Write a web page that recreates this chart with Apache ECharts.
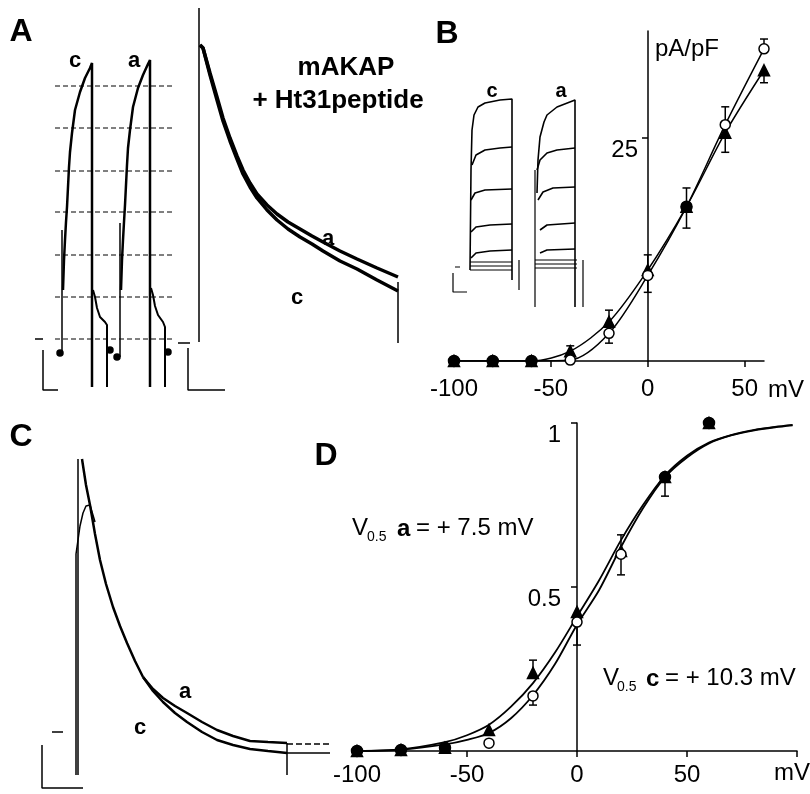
<!DOCTYPE html>
<html>
<head>
<meta charset="utf-8">
<script src="https://cdn.jsdelivr.net/npm/echarts@6/dist/echarts.min.js"></script>
<style>
  html, body { margin: 0; padding: 0; background: #fff; }
  #fig { width: 810px; height: 794px; }
</style>
</head>
<body>
<div id="fig"></div>
<script>
const FF = '"Liberation Sans", Arial, Helvetica, sans-serif'

// ---- panel B: current density vs voltage (pA/pF) ----
const ivVolt = [-100, -80, -60, -40, -20, 0, 20, 40, 60]
const ivCtrl = [0, 0, 0, 0.1, 3.1, 9.6, 17.3, 26.5, 35.0]     // c, open circles
const ivAkap = [0, 0, 0, 1.1, 4.4, 10.2, 17.3, 25.6, 32.6]    // a, triangles
const ivBothVolt = [-100, -80, -60, 20]
const ivBothVal = [0, 0, 0, 17.3]
// [mV, mean, end of bar]
const ivErr = [[-40, 1.1, 1.7], [-20, 4.4, 5.7], [-20, 3.1, 2.0], [0, 10.2, 11.9], [0, 9.6, 7.7],
  [20, 17.3, 19.4], [20, 17.3, 14.9], [40, 26.5, 28.5], [40, 25.6, 23.4], [60, 35.0, 36.1], [60, 32.6, 31.2]]
const ivXTicks = [-100, -50, 0, 50]
const ivYTicks = [25]

// ---- panel D: normalised conductance ----
const gvVolt = [-100, -80, -60, -40, -20, 0, 20, 40, 60]
const gvCtrl = [0, 0.003, 0.01, 0.024, 0.168, 0.393, 0.6, 0.835, 1.0]
const gvAkap = [0, 0.003, 0.01, 0.064, 0.238, 0.424, 0.61, 0.835, 1.0]
const gvBothVolt = [-100, -80, -60, 40, 60]
const gvBothVal = [0, 0.003, 0.01, 0.835, 1.0]
const gvErr = [[-20, 0.238, 0.277], [-20, 0.168, 0.14], [0, 0.393, 0.323], [20, 0.61, 0.659], [20, 0.6, 0.537], [40, 0.835, 0.777]]
const fitVolt = [-100, -80, -60, -50, -40, -30, -20, -10, 0, 10, 20, 30, 40, 50, 60, 70, 80, 90, 98]
const fitAkap = [0, 0.005, 0.027, 0.048, 0.08, 0.135, 0.207, 0.3, 0.41, 0.52, 0.643, 0.75, 0.84, 0.9, 0.94, 0.963, 0.978, 0.988, 0.994]
const fitCtrl = [0, 0.004, 0.02, 0.034, 0.055, 0.1, 0.17, 0.265, 0.385, 0.49, 0.622, 0.74, 0.835, 0.895, 0.938, 0.962, 0.977, 0.987, 0.993]
const gvXTicks = [-100, -50, 0, 50, 100]
const gvXLabels = [-100, -50, 0, 50]
const gvYTicks = [0.5, 1]

// ---- panel A traces [t, v] ----
const aRefLevels = [314, 272, 229, 188, 145, 103, 61]
const aCtrlSpike = [[32, 47], [32, 170]]
const aCtrlRise = [[33, 110], [34, 140], [35, 160], [36, 178], [37, 193], [39, 233], [40, 248], [42, 267], [45, 290], [50, 308], [55, 322], [60, 332], [62, 337], [62, 13]]
const aCtrlTail = [[63, 110], [65, 103], [67, 92], [70, 83], [75, 78], [77, 75], [77, 13]]
const aAkapSpike = [[90, 43], [90, 177]]
const aAkapRise = [[91, 110], [92, 140], [93, 160], [94, 178], [95, 195], [97, 235], [98, 252], [100, 270], [103, 293], [108, 312], [113, 325], [118, 336], [120, 340], [120, 13]]
const aAkapTail = [[121, 112], [123, 105], [125, 94], [128, 85], [133, 78], [135, 73], [135, 13]]
const aDots = [[30, 47], [80, 50], [87, 43], [138, 48]]
const aStep = [[169, 58], [169, 392]]
const aDecayA = [[170, 355], [173, 352], [180, 327], [187, 303], [193, 282], [200, 262], [207, 244], [213, 230], [220, 217], [227, 206], [237, 195], [247, 186], [258, 178], [270, 171], [282, 164], [293, 158], [310, 149], [327, 141], [347, 132], [368, 123]]
const aDecayC = [[170, 355], [173, 352], [180, 325], [187, 300], [193, 279], [200, 259], [207, 241], [213, 226], [220, 213], [227, 202], [237, 190], [247, 180], [258, 171], [270, 163], [282, 156], [293, 149], [310, 139], [327, 131], [347, 120], [368, 109]]
const aStepEnd = [[368, 57], [368, 118]]
const aZero1 = [[5, 61], [13, 61]]
const aZero2 = [[148, 57], [160, 57]]
const aBar1 = [[13, 50], [13, 10], [28, 10]]
const aBar2 = [[158, 52], [158, 10], [195, 10]]

// ---- panel B inset traces ----
const insC = [
  [[30, 50], [31, 150], [32, 190], [34, 205], [38, 213], [45, 217], [60, 220], [72, 221], [72, 40]],
  [[32, 155], [36, 165], [45, 170], [60, 172], [72, 173]],
  [[31, 120], [35, 127], [45, 130], [72, 131]],
  [[31, 88], [36, 93], [50, 95], [72, 96]],
  [[31, 62], [36, 67], [50, 69], [72, 70]]
]
const insCBase = [58, 54, 50]
const insA = [
  [[97, 127], [98, 160], [100, 183], [104, 198], [107, 205], [117, 213], [135, 220], [135, 13]],
  [[97, 150], [100, 160], [107, 167], [117, 170], [135, 172]],
  [[98, 120], [103, 128], [113, 132], [135, 133]],
  [[100, 90], [107, 95], [135, 97]],
  [[100, 67], [107, 70], [135, 71]]
]
const insABase = [60, 56, 52]
const insALeft = [[95, 13], [95, 150]]
const insCRight2 = [[79, 60], [79, 30]]
const insARight2 = [[143, 60], [143, 13]]
const insZero = [[15, 53], [20, 53]]
const insBar = [[13, 47], [13, 28], [27, 28]]

// ---- panel C traces ----
const cPeak = [[46, 19], [46, 240], [50, 268], [53, 281], [56, 288], [60, 289], [65, 272]]
const cStep = [[48, 19], [48, 335]]
const cDecay = [[52, 335], [56, 309], [60, 289], [65, 260], [70, 234], [76, 210], [83, 187], [90, 168], [97, 151], [105, 133], [113, 117]]
const cTailA = [[113, 117], [123, 105], [133, 96], [145, 88], [157, 81], [172, 72], [187, 64], [203, 58], [220, 53], [238, 52], [257, 51]]
const cTailC = [[113, 117], [123, 103], [133, 92], [145, 81], [157, 72], [172, 62], [187, 54], [203, 49], [220, 45], [238, 43], [257, 41]]
const cExtA = [[257, 50], [300, 50]]
const cExtC = [[257, 41], [300, 41]]
const cEnd = [[257, 51], [257, 19]]
const cZero = [[22, 62], [33, 62]]
const cBar = [[12, 49], [12, 6], [53, 6]]

const zip = (xs, ys) => xs.map((x, i) => [x, ys[i]])

function trace (g, data, w, dash, smooth) {
  return {
    type: 'line', xAxisIndex: g, yAxisIndex: g, data,
    symbol: 'none', smooth: smooth || false,
    lineStyle: { color: '#000', width: w || 2, type: dash || 'solid' },
    silent: true, z: 2
  }
}
function dots (g, data, symbol, size, fill) {
  return {
    type: 'scatter', xAxisIndex: g, yAxisIndex: g, data, symbol, symbolSize: size,
    itemStyle: { color: fill, borderColor: '#000', borderWidth: 1.5, opacity: 1 },
    silent: true, z: 4
  }
}
function errBars (g, data) {
  return {
    type: 'custom', xAxisIndex: g, yAxisIndex: g, data, encode: { x: 0, y: [1, 2] }, z: 3, silent: true,
    renderItem (p, api) {
      const a = api.coord([api.value(0), api.value(1)])
      const b = api.coord([api.value(0), api.value(2)])
      const st = { stroke: '#000', lineWidth: 1.5 }
      return {
        type: 'group',
        children: [
          { type: 'line', shape: { x1: a[0], y1: a[1], x2: b[0], y2: b[1] }, style: st },
          { type: 'line', shape: { x1: b[0] - 4, y1: b[1], x2: b[0] + 4, y2: b[1] }, style: st }
        ]
      }
    }
  }
}
function hiddenAxis (g, max) {
  return { type: 'value', gridIndex: g, min: 0, max, show: false }
}
function txt (text, x, y, size, bold, align) {
  return {
    type: 'text', x, y, silent: true,
    style: {
      text, fill: '#000', fontFamily: FF, fontSize: size, fontWeight: bold ? 'bold' : 'normal',
      align: align || 'center', verticalAlign: 'middle'
    }
  }
}

const axisText = { color: '#000', fontFamily: FF, fontSize: 24 }
const axisLine = { onZero: false, lineStyle: { color: '#000', width: 1.5 } }

const series = []
// A
aRefLevels.forEach(v => series.push(trace(0, [[25, v], [142, v]], 1, [5, 3])))
;[aCtrlSpike, aAkapSpike, aStep, aStepEnd].forEach(d => series.push(trace(0, d, 1.5)))
;[aCtrlRise, aAkapRise].forEach(d => series.push(trace(0, d, 2.5)))
;[aCtrlTail, aAkapTail].forEach(d => series.push(trace(0, d, 2)))
;[aDecayA, aDecayC].forEach(d => series.push(trace(0, d, 3.5)))
;[aZero1, aZero2, aBar1, aBar2].forEach(d => series.push(trace(0, d, 1.5)))
series.push(dots(0, aDots, 'circle', 6, '#000'))
// B inset
insC.concat(insA).forEach(d => series.push(trace(1, d, 1.6)))
insCBase.forEach(v => series.push(trace(1, [[30, v], [72, v]], 1)))
insABase.forEach(v => series.push(trace(1, [[95, v], [137, v]], 1)))
;[insALeft, insCRight2, insARight2, insZero, insBar].forEach(d => series.push(trace(1, d, 1.2)))
// B chart
series.push(trace(2, zip(ivVolt, ivCtrl), 1.5, null, 0.3))
series.push(trace(2, zip(ivVolt, ivAkap), 1.5, null, 0.3))
series.push(errBars(2, ivErr))
series.push(dots(2, zip(ivVolt, ivAkap), 'triangle', 11, '#000'))
series.push(dots(2, zip(ivVolt, ivCtrl), 'circle', 10, '#fff'))
series.push(dots(2, zip(ivBothVolt, ivBothVal), 'circle', 11, '#000'))
// C
;[cPeak, cStep, cEnd, cZero, cBar].forEach(d => series.push(trace(3, d, 1.5)))
;[cDecay, cTailA, cTailC].forEach(d => series.push(trace(3, d, 2.5)))
series.push(trace(3, cExtA, 1.5, [6, 3]))
series.push(trace(3, cExtC, 1.5))
// D
series.push(trace(4, zip(fitVolt, fitAkap), 1.8, null, 0.3))
series.push(trace(4, zip(fitVolt, fitCtrl), 1.8, null, 0.3))
series.push(errBars(4, gvErr))
series.push(dots(4, zip(gvVolt, gvAkap), 'triangle', 11, '#000'))
series.push(dots(4, zip(gvVolt, gvCtrl), 'circle', 10, '#fff'))
series.push(dots(4, zip(gvBothVolt, gvBothVal), 'circle', 11, '#000'))

const chart = echarts.init(document.getElementById('fig'), null, { renderer: 'canvas' })
chart.setOption({
  animation: false,
  backgroundColor: '#fff',
  grid: [
    { left: 30, top: 0, width: 380, height: 400, outerBoundsMode: 'none' },
    { left: 440, top: 60, width: 150, height: 260, outerBoundsMode: 'none' },
    { left: 454, top: 31, width: 310, height: 330, outerBoundsMode: 'none' },
    { left: 30, top: 440, width: 310, height: 354, outerBoundsMode: 'none' },
    { left: 357, top: 423, width: 440, height: 328, outerBoundsMode: 'none' }
  ],
  xAxis: [
    hiddenAxis(0, 380),
    hiddenAxis(1, 150),
    {
      type: 'value', gridIndex: 2, min: -100, max: 60, interval: 50,
      axisLine, splitLine: { show: false },
      axisTick: { length: 6, lineStyle: { color: '#000', width: 1.5 }, customValues: ivXTicks },
      axisLabel: Object.assign({ margin: 16, customValues: ivXTicks }, axisText)
    },
    hiddenAxis(3, 310),
    {
      type: 'value', gridIndex: 4, min: -100, max: 100, interval: 50,
      axisLine, splitLine: { show: false },
      axisTick: { length: 6, lineStyle: { color: '#000', width: 1.5 }, customValues: gvXTicks },
      axisLabel: Object.assign({ margin: 12, customValues: gvXLabels }, axisText)
    }
  ],
  yAxis: [
    hiddenAxis(0, 400),
    hiddenAxis(1, 260),
    {
      // y axis sits at 0 mV: shift it in from the grid's left edge
      type: 'value', gridIndex: 2, min: 0, max: 37, position: 'left', offset: -194,
      axisLine, splitLine: { show: false },
      axisTick: { length: 6, lineStyle: { color: '#000', width: 1.5 }, customValues: ivYTicks },
      axisLabel: Object.assign({ margin: 10, verticalAlign: 'top', customValues: ivYTicks }, axisText)
    },
    hiddenAxis(3, 354),
    {
      type: 'value', gridIndex: 4, min: 0, max: 1, position: 'left', offset: -220,
      axisLine, splitLine: { show: false },
      axisTick: { length: 6, lineStyle: { color: '#000', width: 1.5 }, customValues: gvYTicks },
      axisLabel: Object.assign({ margin: 16, verticalAlign: 'top', customValues: gvYTicks }, axisText)
    }
  ],
  graphic: [
    txt('A', 21, 32, 32, true),
    txt('c', 75, 61, 22, true),
    txt('a', 134, 61, 22, true),
    txt('mAKAP', 346, 68, 26, true),
    txt('+ Ht31peptide', 338, 101, 26, true),
    txt('a', 328, 239, 22, true),
    txt('c', 297, 298, 22, true),
    txt('B', 447, 34, 32, true),
    txt('c', 492, 91, 20, true),
    txt('a', 561, 91, 20, true),
    txt('pA/pF', 655, 49, 24, false, 'left'),
    txt('mV', 786, 390, 24, false),
    txt('C', 21, 437, 32, true),
    txt('a', 185, 692, 22, true),
    txt('c', 140, 728, 22, true),
    txt('D', 326, 456, 32, true),
    txt('V', 352, 528, 24, false, 'left'),
    txt('0.5', 367, 537, 14, false, 'left'),
    txt('a', 397, 529, 24, true, 'left'),
    txt('= + 7.5 mV', 416, 528, 24, false, 'left'),
    txt('V', 603, 678, 24, false, 'left'),
    txt('0.5', 617, 687, 14, false, 'left'),
    txt('c', 646, 679, 24, true, 'left'),
    txt('= + 10.3 mV', 665, 678, 24, false, 'left'),
    txt('mV', 792, 773, 24, false)
  ],
  series
})
</script>
</body>
</html>
